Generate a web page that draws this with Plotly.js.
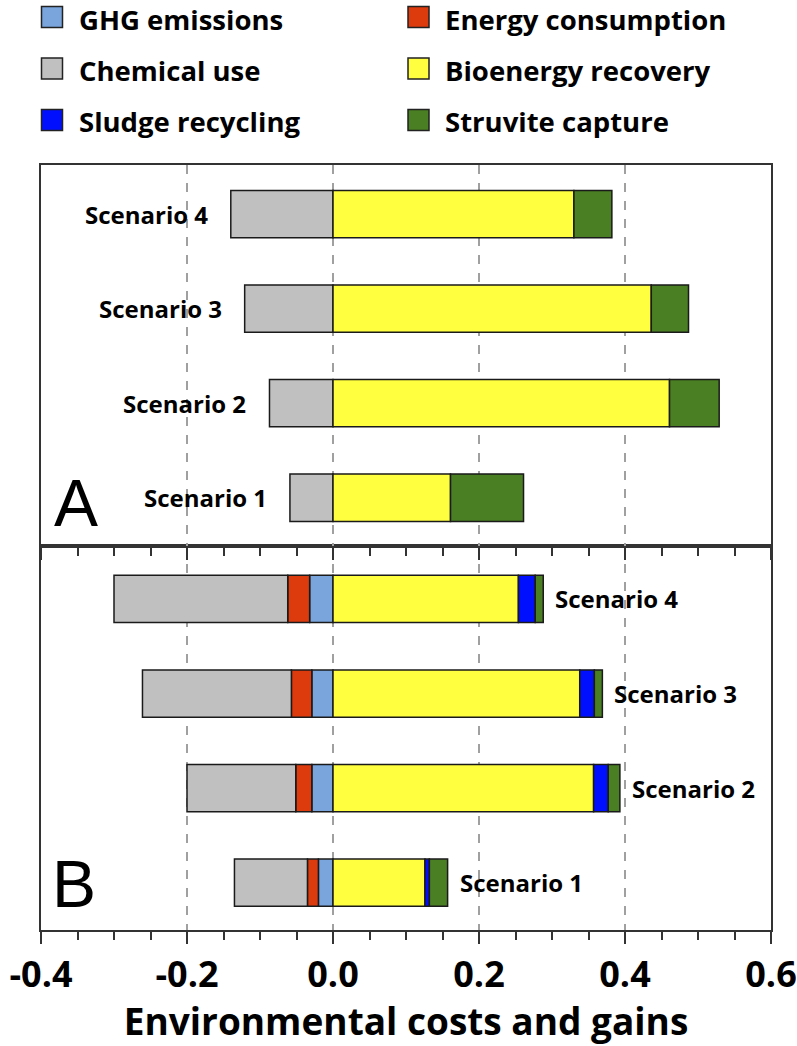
<!DOCTYPE html>
<html>
<head>
<meta charset="utf-8">
<script src="https://cdn.plot.ly/plotly-3.0.1.min.js"></script>
<style>
  body { margin: 0; background: #fff; }
  #grafico { width: 797px; height: 1046px; }
</style>
</head>
<body>
<div id="grafico"></div>
<script>
const cenarios = ['Scenario 1', 'Scenario 2', 'Scenario 3', 'Scenario 4'];

// painel A
const quimicoA = [-0.059, -0.087, -0.121, -0.140];
const bioA = [0.161, 0.461, 0.436, 0.330];
const estruvitaA = [0.100, 0.068, 0.051, 0.052];

// painel B
const ghgB = [-0.020, -0.029, -0.029, -0.032];
const energiaB = [-0.015, -0.022, -0.028, -0.030];
const quimicoB = [-0.100, -0.149, -0.204, -0.238];
const bioB = [0.126, 0.357, 0.338, 0.254];
const lodoB = [0.006, 0.020, 0.020, 0.023];
const estruvitaB = [0.025, 0.016, 0.011, 0.011];

const nomes = ['GHG emissions', 'Energy consumption', 'Chemical use', 'Bioenergy recovery', 'Sludge recycling', 'Struvite capture'];
const cores = ['#79a5dc', '#dd3a0e', '#c0c0c0', '#ffff40', '#0010ff', '#4a7f23'];
const xTicks = [-0.4, -0.2, 0.0, 0.2, 0.4, 0.6];

const fonte = 'Open Sans, Noto Sans, sans-serif';
const contorno = { color: '#1a1a1a', width: 1.5 };

function barra(x, idx, eixoX, eixoY) {
  return {
    type: 'bar', orientation: 'h', y: cenarios, x: x, width: 0.5,
    name: nomes[idx], xaxis: eixoX, yaxis: eixoY, showlegend: false,
    marker: { color: cores[idx], line: contorno }, hoverinfo: 'x+name'
  };
}

const traces = [
  barra(ghgB, 0, 'x', 'y'),
  barra(energiaB, 1, 'x', 'y'),
  barra(quimicoB, 2, 'x', 'y'),
  barra(bioB, 3, 'x', 'y'),
  barra(lodoB, 4, 'x', 'y'),
  barra(estruvitaB, 5, 'x', 'y'),
  barra(quimicoA, 2, 'x2', 'y2'),
  barra(bioA, 3, 'x2', 'y2'),
  barra(estruvitaA, 5, 'x2', 'y2')
];

// area do grafico em pixels: 41..771 x 165..930
const px = v => (v - 41) / 730;
const py = v => (930 - v) / 765;

const shapes = [];
const annotations = [];

// legenda feita a mao (quadrados maiores que os do plotly)
nomes.forEach((nome, i) => {
  const col = i % 2, lin = Math.floor(i / 2);
  const x0 = [41.5, 408][col];
  const yc = [17, 68.5, 120][lin];
  shapes.push({
    type: 'rect', xref: 'paper', yref: 'paper',
    x0: px(x0), x1: px(x0 + 21), y0: py(yc + 10.5), y1: py(yc - 10.5),
    fillcolor: cores[i], line: { color: '#222', width: 1.5 }
  });
  annotations.push({
    xref: 'paper', yref: 'paper', x: px(x0 + 35), y: py(yc + 2),
    xanchor: 'left', yanchor: 'middle', showarrow: false, text: nome,
    font: { family: fonte, size: 27.5, weight: 'bold', color: '#000' }
  });
});

cenarios.forEach((c, i) => {
  annotations.push({
    xref: 'x2', yref: 'y2', x: quimicoA[i], y: c, xanchor: 'right', xshift: -21,
    showarrow: false, text: c, font: { family: fonte, size: 24, weight: 'bold', color: '#000' }
  });
  annotations.push({
    xref: 'x', yref: 'y', x: bioB[i] + lodoB[i] + estruvitaB[i], y: c, xanchor: 'left', xshift: 10,
    showarrow: false, text: c, font: { family: fonte, size: 24, weight: 'bold', color: '#000' }
  });
});

annotations.push({
  xref: 'paper', yref: 'paper', x: px(52), y: py(503), xanchor: 'left', yanchor: 'middle',
  showarrow: false, text: 'A', font: { family: 'Liberation Sans, Arial, sans-serif', size: 66, color: '#000' }
});
annotations.push({
  xref: 'paper', yref: 'paper', x: px(50), y: py(884), xanchor: 'left', yanchor: 'middle',
  showarrow: false, text: 'B', font: { family: 'Liberation Sans, Arial, sans-serif', size: 66, color: '#000' }
});

const eixoX = {
  range: [-0.4, 0.6], tickvals: xTicks, ticktext: xTicks.map(v => v.toFixed(1)),
  ticks: 'outside', ticklen: 12, tickwidth: 2, tickcolor: '#333',
  minor: { dtick: 0.05, tick0: 0, ticks: 'outside', ticklen: 8, tickwidth: 2, tickcolor: '#333', showgrid: false },
  showline: true, linecolor: '#333', linewidth: 2, mirror: true,
  showgrid: true, gridcolor: '#a0a0a0', gridwidth: 1.5, griddash: 'dash',
  zeroline: false, fixedrange: true
};

const eixoY = {
  type: 'category', categoryarray: cenarios, showline: true, linecolor: '#333', linewidth: 2, mirror: true,
  showticklabels: false, ticks: '', showgrid: false, zeroline: false, fixedrange: true
};

const layout = {
  width: 797, height: 1046,
  margin: { l: 41, r: 26, t: 165, b: 116 },
  paper_bgcolor: '#fff', plot_bgcolor: '#fff',
  barmode: 'relative', showlegend: false,
  font: { family: fonte, color: '#000' },
  xaxis: {
    ...eixoX, anchor: 'y',
    tickfont: { family: fonte, size: 36, weight: 'bold', color: '#000' },
    ticklabelstandoff: 0,
    title: { text: 'Environmental costs and gains', font: { family: fonte, size: 37, weight: 'bold', color: '#000' }, standoff: 7 }
  },
  xaxis2: { ...eixoX, anchor: 'y2', matches: 'x', showticklabels: false },
  yaxis: { ...eixoY, domain: [0, 0.502], range: [-0.5, 3.56], anchor: 'x' },
  yaxis2: { ...eixoY, domain: [0.502, 1], range: [-0.51, 3.52], anchor: 'x2' },
  shapes: shapes,
  annotations: annotations
};

Plotly.newPlot('grafico', traces, layout, { displayModeBar: false, staticPlot: true });
</script>
</body>
</html>
